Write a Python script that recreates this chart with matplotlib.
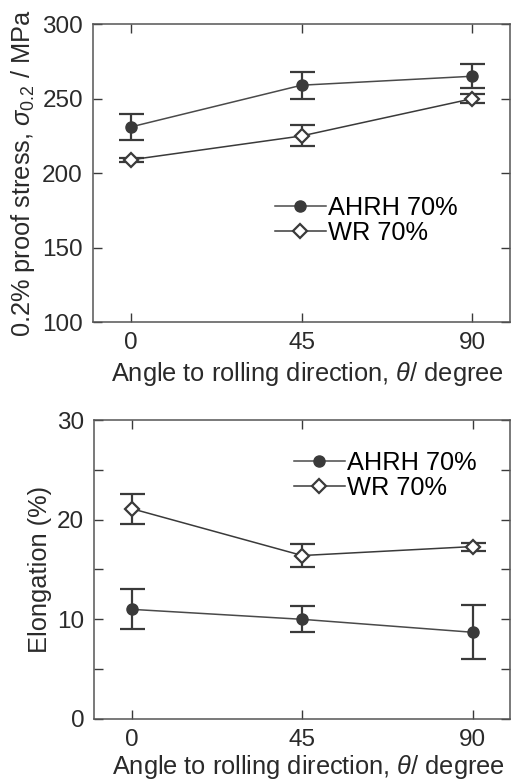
import numpy as np
import matplotlib
matplotlib.use("Agg")
import matplotlib.pyplot as plt
from matplotlib.lines import Line2D

plt.rcParams["font.family"] = ["Liberation Sans", "DejaVu Sans"]
plt.rcParams["mathtext.fontset"] = "custom"
plt.rcParams["mathtext.rm"] = "Liberation Sans"
plt.rcParams["mathtext.it"] = "Liberation Sans:italic"

angles = [0, 45, 90]

# 0.2% proof stress (MPa)
ps_ahrh = [231, 259, 265]
ps_ahrh_err = [9, 9, 8]
ps_wr = [209, 225, 250]
ps_wr_err = [1.5, 7, 3]

# elongation (%)
el_ahrh = [11.0, 10.0, 8.7]
el_ahrh_err = [2.0, 1.3, 2.7]
el_wr = [21.1, 16.4, 17.3]
el_wr_err = [1.5, 1.2, 0.4]

DARK = "#3a3a3a"
LINE = "#4a4a4a"
TXT = "#2a2a2a"
FS = 17.5
LFS = 18.3

fig = plt.figure(figsize=(5.12, 7.82), dpi=100)
ax1 = fig.add_axes([0.181, 0.5876, 0.816, 0.3817])
ax2 = fig.add_axes([0.1836, 0.0806, 0.8134, 0.3823])

circ_kw = dict(marker="o", ms=8, mfc=DARK, mec=DARK)
diam_kw = dict(marker="D", ms=7.5, mfc="white", mec=DARK, mew=1.6)


def draw(ax, a, aerr, w, werr, lpad):
    ax.errorbar(angles, a, yerr=aerr, color=LINE, lw=1.1, ecolor=DARK,
                elinewidth=1.6, capsize=9, capthick=1.6, **circ_kw)
    ax.errorbar(angles, w, yerr=werr, color=DARK, lw=1.1, ecolor=DARK,
                elinewidth=1.6, capsize=9, capthick=1.6, **diam_kw)
    ax.set_xlim(-10, 100)
    ax.set_xticks(angles)
    ax.tick_params(direction="in", top=True, right=True, length=6.5,
                   width=1.0, colors=DARK, labelcolor=TXT,
                   labelsize=FS, pad=7)
    for s in ax.spines.values():
        s.set_color("#555555")
        s.set_linewidth(1.1)
    ax.set_xlabel(r"Angle to rolling direction, $\theta$/ degree",
                  fontsize=LFS, color=TXT, labelpad=lpad)
    ax.xaxis.label.set_x(0.515)


def legend(ax, anchor):
    handles = [Line2D([], [], color=LINE, lw=1.1, **circ_kw),
               Line2D([], [], color=DARK, lw=1.1, **diam_kw)]
    ax.legend(handles, ["AHRH 70%", "WR 70%"], loc="upper left",
              bbox_to_anchor=anchor, frameon=False, fontsize=LFS,
              handlelength=2.0, handletextpad=0.1, labelspacing=0.05,
              borderpad=0, borderaxespad=0)


draw(ax1, ps_ahrh, ps_ahrh_err, ps_wr, ps_wr_err, 4)
ax1.set_ylim(100, 300)
ax1.set_yticks([100, 150, 200, 250, 300])
ax1.set_ylabel(r"0.2% proof stress, $\sigma_{0.2}$ / MPa", fontsize=LFS,
               color=TXT, labelpad=4)
legend(ax1, (0.436, 0.425))

draw(ax2, el_ahrh, el_ahrh_err, el_wr, el_wr_err, 2)
ax2.set_ylim(0, 30)
ax2.set_yticks([0, 10, 20, 30])
ax2.set_yticks([5, 15, 25], minor=True)
ax2.tick_params(which="minor", direction="in", right=True, length=6.5,
                width=1.0, colors=DARK)
ax2.set_ylabel("Elongation (%)", fontsize=LFS, color=TXT, labelpad=4)
legend(ax2, (0.48, 0.897))

fig.savefig("out.png", dpi=100)
